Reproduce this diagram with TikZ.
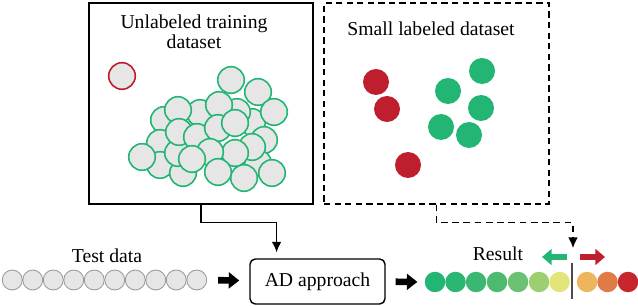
\documentclass[tikz,border=0pt]{standalone}
\usepackage{fontspec}
\setmainfont{Liberation Serif}
\usetikzlibrary{positioning,arrows.meta,calc}
\definecolor{okgreen}{HTML}{22B573}
\definecolor{badred}{HTML}{BE1E2D}
\definecolor{ptgray}{HTML}{E6E6E6}
\definecolor{rc1}{HTML}{22B573}
\definecolor{rc2}{HTML}{2BB672}
\definecolor{rc3}{HTML}{3AB871}
\definecolor{rc4}{HTML}{4CBB70}
\definecolor{rc5}{HTML}{6DC173}
\definecolor{rc6}{HTML}{9CCF70}
\definecolor{rc7}{HTML}{E3E57A}
\definecolor{rc8}{HTML}{EDB55C}
\definecolor{rc9}{HTML}{E07B45}
\definecolor{rc10}{HTML}{C6262C}

\begin{document}
\begin{tikzpicture}[x=0.02cm,y=-0.02cm,
  txt/.style={font=\fontsize{11.2}{10}\selectfont,align=center,inner sep=0pt},
  dset/.style={draw,line width=0.8pt,minimum width=4.48cm,minimum height=4.02cm},
  unl/.style={draw=okgreen,fill=ptgray,line width=0.9pt},
  tcirc/.style={circle,draw=gray!80,fill=ptgray,line width=0.5pt,minimum size=0.4cm,inner sep=0pt},
  rcirc/.style={circle,fill=#1,minimum size=0.41cm,inner sep=0pt},
  conn/.style={-{Latex[length=6pt,width=5.5pt]},line width=0.8pt},
  fat/.style={-{Triangle[length=6pt,width=9pt]},line width=3.8pt},
  flag/.style={-{Triangle[length=5.5pt,width=9pt]},line width=3.2pt}]
  \useasboundingbox (0,0) rectangle (638,306);
  % the two training sets
  \node[dset] (unlset) at (201,103.5) {};
  \node[dset,dashed,dash pattern=on 3.6pt off 2.4pt,minimum width=4.5cm] (labset) at (436.5,103.5) {};
  \node[txt] (unltitle) at (194,32) {Unlabeled training\\dataset};
  \node[txt] (labtitle) at (431,29) {Small labeled dataset};
  \draw[draw=badred,fill=ptgray,line width=0.9pt] (122,76) circle[radius=0.266cm];
  \foreach \px/\py in {164/120,160/143,160/165,183/173,178/153,142/157,
      252/122,264/140,258/163,272/173,244/178,231/80,258/92,274/112,
      237/112,200/113,178/110,219/105,179/132,197/137,218/128,235/123,
      252/147,235/153,210/152,192/159,218/172}
    \draw[unl] (\px,\py) circle[radius=0.266cm];
  \foreach \px/\py in {376/82,387/109,408/165}
    \fill[badred] (\px,\py) circle[radius=0.26cm];
  \foreach \px/\py in {482/71,448/91,481/108,441/127,469/135}
    \fill[okgreen] (\px,\py) circle[radius=0.26cm];
  % test data
  \foreach \i in {0,...,9}
    \node[tcirc] (t\i) at (12.25+20.5*\i,280) {};
  \node[txt] (testlbl) at (107,256) {Test data};
  % detector
  \node[draw,line width=0.8pt,rounded corners=3pt,minimum width=2.7cm,minimum height=0.9cm,txt] (ad) at (317.5,281.5) {AD approach};
  % result
  \foreach \px/\c [count=\i] in {435/rc1,455.5/rc2,476/rc3,497/rc4,518/rc5,539/rc6,559.5/rc7,587/rc8,607.5/rc9,628/rc10}
    \node[rcirc=\c] (r\i) at (\px,282) {};
  \node[txt] (reslbl) at (498,254) {Result};
  \coordinate (sepT) at (572,263);
  \coordinate (sepB) at (572,299);
  \draw[line width=0.6pt,black!70] (sepT) -- (sepB);
  \coordinate (resin) at (573,248);
  \draw[flag,okgreen] (567,257) -- (542,257);
  \draw[flag,badred] (580,257) -- (605,257);
  % connectors
  \draw[conn] (unlset.south) -- ++(0,18) -| ($(ad.north west)!0.2!(ad.north east)$) [shorten >=3.4pt];
  \draw[conn,dashed,dash pattern=on 3.8pt off 2.6pt] (labset.south) -- ++(0,18) -| (resin);
  \draw[fat,shorten <=6.2pt,shorten >=5.7pt] (t9) -- (ad);
  \draw[fat,shorten <=5.7pt,shorten >=4pt] (ad) -- (r1);
\end{tikzpicture}
\end{document}
